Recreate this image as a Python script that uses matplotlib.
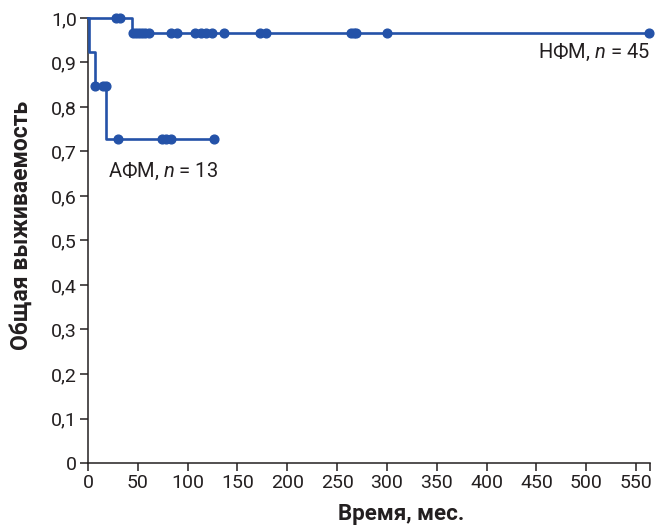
import matplotlib
matplotlib.use("Agg")
import matplotlib.pyplot as plt

plt.rcParams["font.family"] = ["Roboto", "DejaVu Sans"]
plt.rcParams["mathtext.fontset"] = "custom"
plt.rcParams["mathtext.rm"] = "Roboto"
plt.rcParams["mathtext.it"] = "Roboto:italic"

_LINE = "#2452A8"
_TEXT = "#231F20"

# НФМ: ступени кривой и цензурированные наблюдения
nfm_step_t = [0, 44, 563]
nfm_step_s = [1.0, 0.967, 0.967]
nfm_cens_t = [28, 32, 45, 48, 51, 54, 57, 61, 83, 89, 107, 113, 118, 124.5,
              137, 173, 179, 264, 267, 269, 300, 563]
nfm_cens_s = [1.0, 1.0] + [0.967] * 20

# АФМ
afm_step_t = [0, 1, 7, 18, 126]
afm_step_s = [1.0, 0.923, 0.846, 0.727, 0.727]
afm_cens_t = [7, 15, 18, 30, 74, 78, 83, 126]
afm_cens_s = [0.846, 0.846, 0.846, 0.727, 0.727, 0.727, 0.727, 0.727]

x_ticks = list(range(0, 551, 50))
y_ticks = [0, 0.1, 0.2, 0.3, 0.4, 0.5, 0.6, 0.7, 0.8, 0.9, 1.0]
y_labels = ["0", "0,1", "0,2", "0,3", "0,4", "0,5", "0,6", "0,7", "0,8", "0,9", "1,0"]

fig = plt.figure(figsize=(6.56, 5.27), dpi=100)
ax = fig.add_axes([0.134, 0.1214, 0.857, 0.8446])

for t, s, ct, cs in [
    (nfm_step_t, nfm_step_s, nfm_cens_t, nfm_cens_s),
    (afm_step_t, afm_step_s, afm_cens_t, afm_cens_s),
]:
    ax.step(t, s, where="post", color=_LINE, lw=1.9, clip_on=False, zorder=3)
    ax.plot(ct, cs, "o", color=_LINE, ms=6.3, clip_on=False, zorder=4)

ax.text(564, 0.922, "НФМ, $\\it{n}$ = 45", ha="right", va="center",
        fontsize=14.5, color=_TEXT)
ax.text(20, 0.655, "АФМ, $\\it{n}$ = 13", ha="left", va="center",
        fontsize=14.5, color=_TEXT)

ax.set_xlim(0, 564)
ax.set_ylim(0, 1.0)
ax.set_xticks(x_ticks + [564])
ax.set_xticklabels([str(v) for v in x_ticks] + [""])
ax.set_yticks(y_ticks)
ax.set_yticklabels(y_labels)

for sp in ("top", "right"):
    ax.spines[sp].set_visible(False)
for sp in ("left", "bottom"):
    ax.spines[sp].set_color(_TEXT)
    ax.spines[sp].set_linewidth(1.1)
ax.tick_params(colors=_TEXT, labelsize=14, length=6, width=1.1, pad=2)

ax.set_xlabel("Время, мес.", fontsize=16, fontweight="bold", color=_TEXT)
ax.set_ylabel("Общая выживаемость", fontsize=16.5, fontweight="bold",
              color=_TEXT)
ax.xaxis.set_label_coords(0.557, -0.09)
ax.yaxis.set_label_coords(-0.098, 0.533)

fig.savefig("out.png", dpi=100, facecolor="white")
